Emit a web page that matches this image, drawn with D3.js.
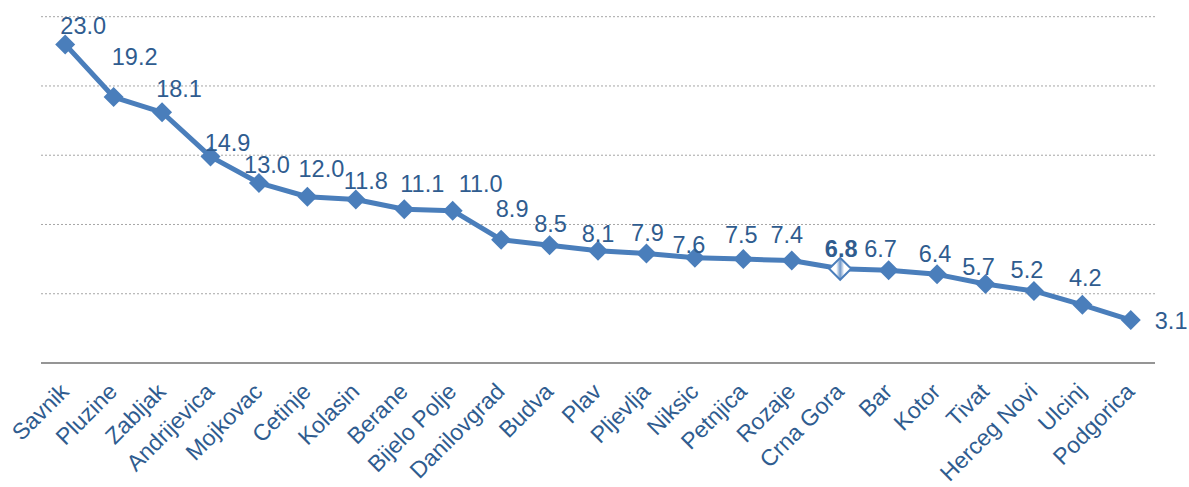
<!DOCTYPE html>
<html>
<head>
<meta charset="utf-8">
<script src="https://cdn.jsdelivr.net/npm/d3@7"></script>
<style>
  body { margin: 0; background: #fff; }
  svg { display: block; font-family: "Liberation Sans", Arial, sans-serif; }
</style>
</head>
<body>
<svg width="1189" height="487"></svg>
<script>
// Donnees
const categories = ["Savnik", "Pluzine", "Zabljak", "Andrijevica", "Mojkovac", "Cetinje", "Kolasin",
  "Berane", "Bijelo Polje", "Danilovgrad", "Budva", "Plav", "Pljevlja", "Niksic", "Petnjica", "Rozaje",
  "Crna Gora", "Bar", "Kotor", "Tivat", "Herceg Novi", "Ulcinj", "Podgorica"];
const values = [23.0, 19.2, 18.1, 14.9, 13.0, 12.0, 11.8, 11.1, 11.0, 8.9, 8.5, 8.1, 7.9, 7.6, 7.5, 7.4,
  6.8, 6.7, 6.4, 5.7, 5.2, 4.2, 3.1];
const gridTicks = [5, 10, 15, 20, 25];
const highlight = "Crna Gora";

// decalage manuel des etiquettes (comme dans Excel)
const labelShift = [[18, -10], [21, -32], [17, -15], [17, -6], [8, -10], [14, -20], [10, -11], [18, -17],
  [28, -19], [11, -23], [1, -13], [0, -9], [1, -13], [-6, -5], [-2, -16], [-5, -17], [1, -12], [-8, -13],
  [-2, -12], [-7, -9], [-7, -13], [3, -19], [24, 9]];

const svg = d3.select("svg");
const blue = "#4A7EBB";
const textCol = "#2F5C8F";

const x = d3.scaleBand().domain(categories).range([41, 1155]);
const y = d3.scaleLinear().domain([0, 25]).range([363, 16.7]);
const cx = d => x(d) + x.bandwidth() / 2;

const data = categories.map((c, i) => ({ c, v: values[i], s: labelShift[i] }));

// gradient pour le marqueur Crna Gora
const grad = svg.append("defs").append("linearGradient").attr("id", "hl")
  .attr("x1", 0).attr("x2", 1).attr("y1", 0).attr("y2", 0);
grad.append("stop").attr("offset", "0%").attr("stop-color", "#fff");
grad.append("stop").attr("offset", "32%").attr("stop-color", "#fff");
grad.append("stop").attr("offset", "50%").attr("stop-color", "#6F97C9");
grad.append("stop").attr("offset", "68%").attr("stop-color", "#fff");
grad.append("stop").attr("offset", "100%").attr("stop-color", "#fff");

// lignes de grille pointillees
svg.selectAll("line.grid")
  .data(gridTicks)
  .join("line")
  .attr("class", "grid")
  .attr("x1", 41).attr("x2", 1155)
  .attr("y1", d => y(d)).attr("y2", d => y(d))
  .attr("stroke", "#A6A6A6")
  .attr("stroke-width", 1)
  .attr("stroke-dasharray", "2,2");

// axe x
svg.append("line")
  .attr("x1", 41).attr("x2", 1155)
  .attr("y1", y(0)).attr("y2", y(0))
  .attr("stroke", "#959595")
  .attr("stroke-width", 2);

// etiquettes categories
svg.selectAll("text.cat")
  .data(categories)
  .join("text")
  .attr("class", "cat")
  .attr("transform", d => `translate(${cx(d) + 5},393) rotate(-45)`)
  .attr("text-anchor", "end")
  .attr("font-size", "23px")
  .attr("fill", textCol)
  .text(d => d);

// ligne
const line = d3.line().x(d => cx(d.c)).y(d => y(d.v));
svg.append("path")
  .datum(data)
  .attr("d", line)
  .attr("fill", "none")
  .attr("stroke", blue)
  .attr("stroke-width", 5)
  .attr("stroke-linejoin", "round");

// marqueurs losanges
const diamond = r => `M0,${-r}L${r},0L0,${r}L${-r},0Z`;
svg.selectAll("path.mk")
  .data(data)
  .join("path")
  .attr("class", "mk")
  .attr("transform", d => `translate(${cx(d.c)},${y(d.v)})`)
  .attr("d", d => d.c === highlight ? diamond(11) : diamond(10))
  .attr("fill", d => d.c === highlight ? "url(#hl)" : blue)
  .attr("stroke", blue)
  .attr("stroke-width", d => d.c === highlight ? 2 : 0);

// etiquettes valeurs
svg.selectAll("text.val")
  .data(data)
  .join("text")
  .attr("class", "val")
  .attr("x", d => cx(d.c) + d.s[0])
  .attr("y", d => y(d.v) + d.s[1])
  .attr("text-anchor", (d, i) => i === data.length - 1 ? "start" : "middle")
  .attr("font-size", "23.5px")
  .attr("font-weight", d => d.c === highlight ? "bold" : "normal")
  .attr("fill", textCol)
  .text(d => d.v.toFixed(1));
</script>
</body>
</html>
